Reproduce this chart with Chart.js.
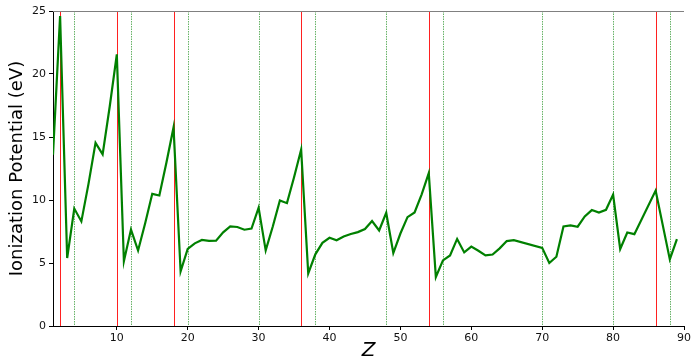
<!DOCTYPE html>
<html lang="en">
<head>
    <meta charset="UTF-8">
    <title>Ionization Potential vs Z</title>
    <script src="https://cdn.jsdelivr.net/npm/chart.js"></script>
    <style>
        body {
            margin: 0;
            background: #fff;
        }
        .chart-box {
            width: 693px;
            height: 363px;
        }
    </style>
</head>
<body>
    <div class="chart-box">
        <canvas id="ipChart"></canvas>
    </div>

    <script>
        // Atomic number and first ionization potential (eV)
        const zValues = [1, 2, 3, 4, 5, 6, 7, 8, 9, 10,
            11, 12, 13, 14, 15, 16, 17, 18, 19, 20,
            21, 22, 23, 24, 25, 26, 27, 28, 29, 30,
            31, 32, 33, 34, 35, 36, 37, 38, 39, 40,
            41, 42, 43, 44, 45, 46, 47, 48, 49, 50,
            51, 52, 53, 54, 55, 56, 57, 58, 59, 60,
            61, 62, 63, 64, 65, 66, 70,
            71, 72, 73, 74, 75, 76, 77, 78, 79, 80,
            81, 82, 83, 86, 88, 89];
        const ipValues = [13.6, 24.6, 5.39, 9.32, 8.3, 11.26, 14.53, 13.62, 17.42, 21.56,
            5.14, 7.65, 5.99, 8.15, 10.49, 10.36, 12.97, 15.76, 4.34, 6.11,
            6.56, 6.83, 6.75, 6.77, 7.43, 7.9, 7.86, 7.64, 7.73, 9.39,
            6.0, 7.9, 9.97, 9.75, 11.81, 14.0, 4.18, 5.69, 6.6, 7.0,
            6.8, 7.1, 7.3, 7.45, 7.7, 8.33, 7.58, 8.99, 5.79, 7.34,
            8.64, 9.01, 10.45, 12.13, 3.89, 5.21, 5.6, 6.91, 5.84, 6.3,
            5.97, 5.6, 5.67, 6.16, 6.74, 6.82, 6.2,
            5.0, 5.5, 7.9, 7.98, 7.88, 8.7, 9.2, 9.0, 9.22, 10.43,
            6.11, 7.42, 7.29, 10.75, 5.28, 6.9];

        // Marker lines
        const nobleGasZ = [2, 10, 18, 36, 54, 86];
        const dottedZ = [4, 12, 20, 30, 38, 48, 56, 70, 80, 88];

        const xTicks = [10, 20, 30, 40, 50, 60, 70, 80, 90];
        const yTicks = [0, 5, 10, 15, 20, 25];

        const points = zValues.map((z, i) => ({ x: z, y: ipValues[i] }));

        const markerLines = {
            id: 'markerLines',
            beforeDatasetsDraw(chart) {
                const { ctx, chartArea, scales } = chart;
                ctx.save();
                ctx.beginPath();
                ctx.rect(chartArea.left, chartArea.top, chartArea.right - chartArea.left, chartArea.bottom - chartArea.top);
                ctx.clip();

                ctx.lineWidth = 0.8;
                ctx.strokeStyle = 'rgba(0,128,0,0.75)';
                ctx.setLineDash([1.5, 1]);
                dottedZ.forEach(z => {
                    const x = Math.round(scales.x.getPixelForValue(z)) + 0.5;
                    ctx.beginPath();
                    ctx.moveTo(x, chartArea.top);
                    ctx.lineTo(x, chartArea.bottom);
                    ctx.stroke();
                });

                ctx.setLineDash([]);
                ctx.lineWidth = 1;
                ctx.strokeStyle = '#ff2020';
                nobleGasZ.forEach(z => {
                    const x = Math.round(scales.x.getPixelForValue(z)) + 0.5;
                    ctx.beginPath();
                    ctx.moveTo(x, chartArea.top);
                    ctx.lineTo(x, chartArea.bottom);
                    ctx.stroke();
                });
                ctx.restore();

                // top spine
                ctx.save();
                ctx.strokeStyle = '#808080';
                ctx.lineWidth = 1.2;
                ctx.beginPath();
                ctx.moveTo(chartArea.left, chartArea.top + 0.5);
                ctx.lineTo(chartArea.right, chartArea.top + 0.5);
                ctx.stroke();
                ctx.restore();
            }
        };

        new Chart(document.getElementById('ipChart'), {
            type: 'line',
            data: {
                datasets: [{
                    label: 'Ionization Potential',
                    data: points,
                    borderColor: '#008000',
                    borderWidth: 2.2,
                    pointRadius: 0,
                    tension: 0,
                    fill: false
                }]
            },
            options: {
                responsive: true,
                maintainAspectRatio: false,
                animation: false,
                layout: {
                    padding: { top: 11, right: 7, left: 0, bottom: 0 }
                },
                plugins: {
                    legend: { display: false },
                    tooltip: { enabled: false }
                },
                scales: {
                    x: {
                        type: 'linear',
                        min: 1,
                        max: 90,
                        afterBuildTicks: scale => {
                            scale.ticks = xTicks.map(v => ({ value: v }));
                        },
                        afterFit: scale => {
                            scale.height = 37;
                        },
                        grid: {
                            drawOnChartArea: false,
                            drawTicks: true,
                            tickLength: 4,
                            color: '#000'
                        },
                        border: { display: true, color: '#000', width: 1 },
                        ticks: {
                            color: '#111',
                            padding: 2,
                            maxRotation: 0,
                            font: { family: 'DejaVu Sans', size: 11 }
                        },
                        title: {
                            display: true,
                            text: 'Z',
                            color: '#000',
                            padding: { top: 3, bottom: 0 },
                            font: { family: 'DejaVu Sans', size: 20, style: 'italic' }
                        }
                    },
                    y: {
                        min: 0,
                        max: 25,
                        afterBuildTicks: scale => {
                            scale.ticks = yTicks.map(v => ({ value: v }));
                        },
                        afterFit: scale => {
                            scale.width = 53;
                        },
                        grid: {
                            drawOnChartArea: false,
                            drawTicks: true,
                            tickLength: 4,
                            color: '#000'
                        },
                        border: { display: true, color: '#000', width: 1 },
                        ticks: {
                            color: '#111',
                            padding: 3,
                            font: { family: 'DejaVu Sans', size: 11 }
                        },
                        title: {
                            display: true,
                            text: 'Ionization Potential (eV)',
                            color: '#000',
                            padding: { top: 7, bottom: 0 },
                            font: { family: 'DejaVu Sans', size: 18 }
                        }
                    }
                }
            },
            plugins: [markerLines]
        });
    </script>
</body>
</html>
